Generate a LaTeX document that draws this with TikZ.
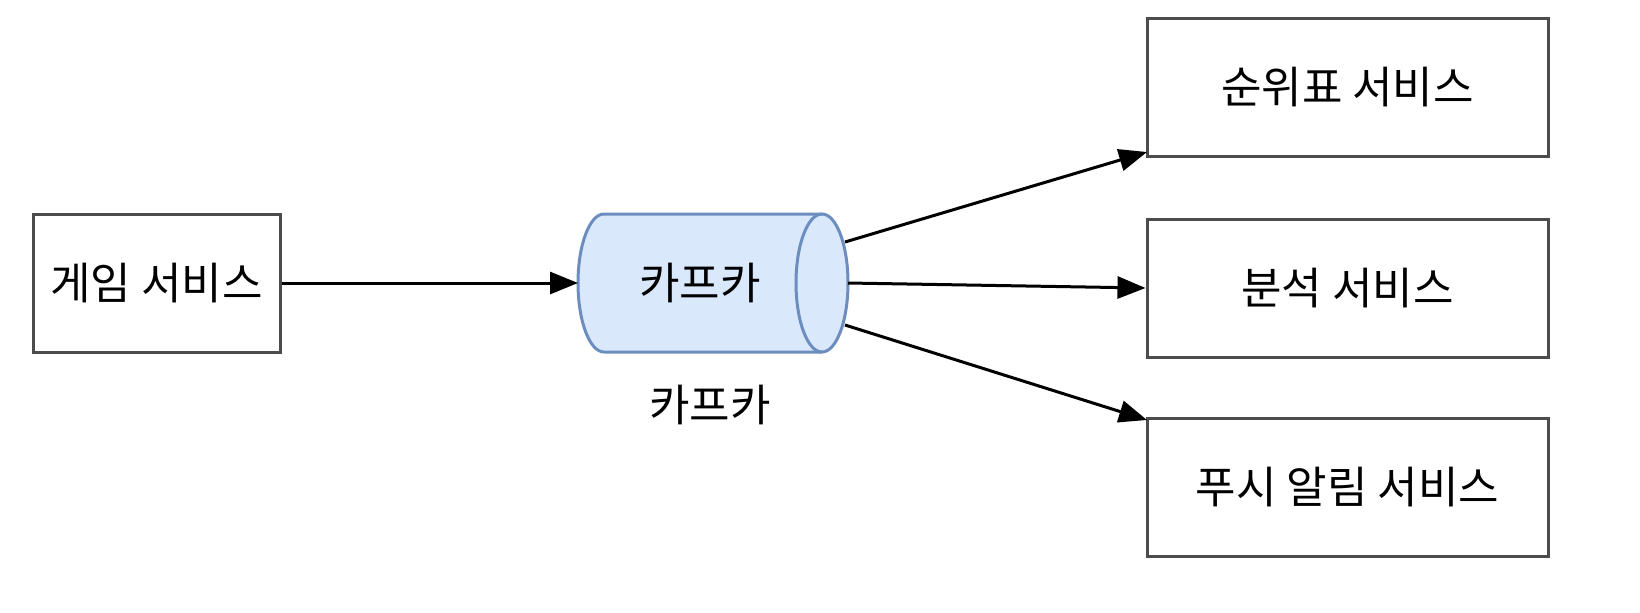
\documentclass[tikz,border=0pt]{standalone}
\usepackage{fontspec}
\setmainfont{Noto Sans CJK KR}
\usetikzlibrary{arrows.meta}
\definecolor{cylfill}{HTML}{DAE8FC}
\definecolor{cylline}{HTML}{6C8EBF}
\begin{document}
\begin{tikzpicture}[x=0.5pt,y=-0.5pt,
  txt/.style={font=\fontsize{22}{26}\selectfont},
  box/.style={txt,draw=black!70,line width=1.5pt,minimum height=69pt,inner sep=0pt},
  arr/.style={line width=1.5pt,-{Triangle[length=14pt,width=11pt]}}]
\useasboundingbox (0,0) rectangle (1640,612);
\node[box,minimum width=123.5pt] (game) at (156.5,283) {게임 서비스};
\node[box,minimum width=200.5pt] (rank) at (1347.5,87) {순위표 서비스};
\node[box,minimum width=200.5pt] (anal) at (1347.5,288) {분석 서비스};
\node[box,minimum width=200.5pt] (push) at (1347.5,487.5) {푸시 알림 서비스};
% cylinder
\filldraw[fill=cylfill,draw=cylline,line width=1.5pt]
  (822,214) -- (604,214) arc[start angle=90,end angle=270,x radius=13pt,y radius=34.5pt] -- (822,352)
  arc[start angle=270,end angle=450,x radius=13pt,y radius=34.5pt] -- cycle;
\draw[draw=cylline,line width=1.5pt] (822,214) arc[start angle=90,end angle=270,x radius=13pt,y radius=34.5pt];
\node[txt] (kafka) at (700,283) {카프카};
\node[txt] (klabel) at (710,405) {카프카};
\coordinate (kin) at (578,283);
\coordinate (k1) at (845,242);
\coordinate (k2) at (848,283);
\coordinate (k3) at (845,325);
\draw[arr] (game.east) -- (kin);
\draw[arr] (k1) -- (1147,152);
\draw[arr] (k2) -- (anal.west);
\draw[arr] (k3) -- (1147,420);
\end{tikzpicture}
\end{document}
